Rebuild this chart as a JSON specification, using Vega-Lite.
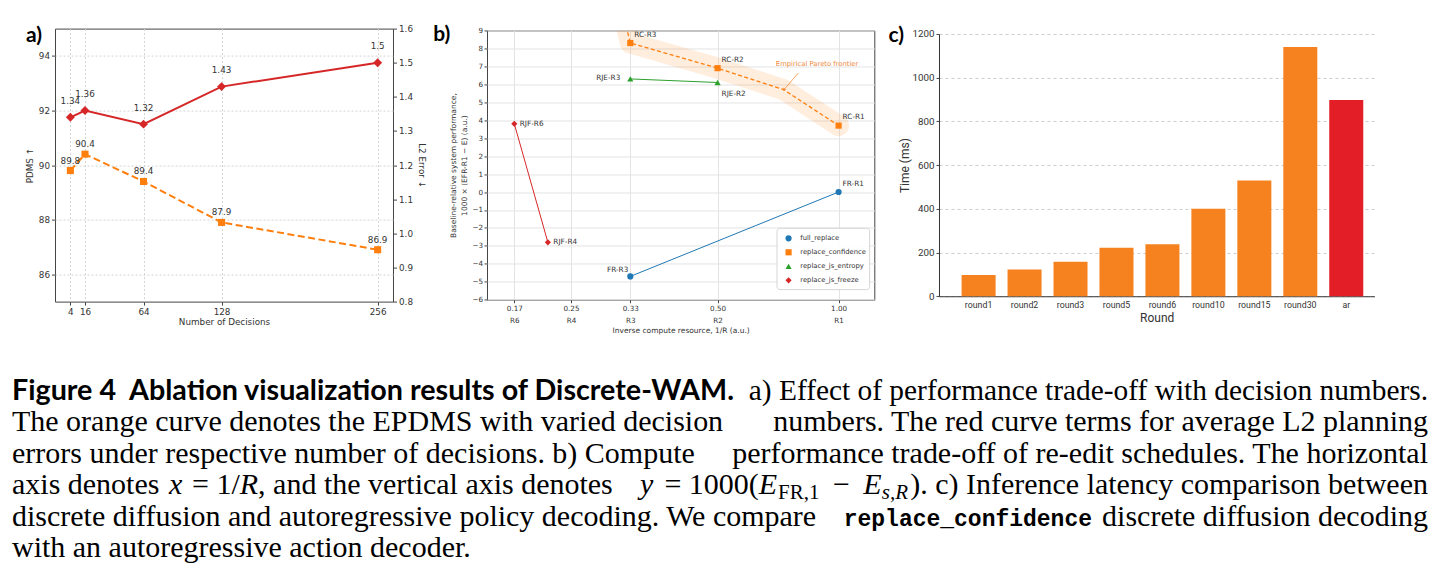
{
  "$schema": "https://vega.github.io/schema/vega-lite/v6.json",
  "background": "white",
  "padding": {"left": 12, "top": 23.6, "right": 0, "bottom": 0},
  "config": {
    "font": "DejaVu Sans",
    "view": {"stroke": null},
    "axis": {
      "labelFont": "DejaVu Sans", "titleFont": "DejaVu Sans",
      "labelColor": "#333333", "titleColor": "#333333", "titleFontWeight": "normal",
      "domainColor": "#444444", "tickColor": "#444444", "gridColor": "#d9d9d9",
      "labelFontSize": 8.8, "titleFontSize": 8.8
    },
    "text": {"font": "DejaVu Sans"}
  },
  "datasets": {
    "decisions": [
      {"n": 4, "pdms": 89.8, "l2": 1.34},
      {"n": 16, "pdms": 90.4, "l2": 1.36},
      {"n": 64, "pdms": 89.4, "l2": 1.32},
      {"n": 128, "pdms": 87.9, "l2": 1.43},
      {"n": 256, "pdms": 86.9, "l2": 1.5}
    ],
    "runs": [
      {"series": "full_replace", "label": "FR-R3", "inv_r": 0.3333333, "perf": -4.7},
      {"series": "full_replace", "label": "FR-R1", "inv_r": 1, "perf": 0},
      {"series": "replace_confidence", "label": "RC-R3", "inv_r": 0.3333333, "perf": 8.3},
      {"series": "replace_confidence", "label": "RC-R2", "inv_r": 0.5, "perf": 6.9},
      {"series": "replace_confidence", "label": "RC-R1", "inv_r": 1, "perf": 3.7},
      {"series": "replace_js_entropy", "label": "RJE-R3", "inv_r": 0.3333333, "perf": 6.3},
      {"series": "replace_js_entropy", "label": "RJE-R2", "inv_r": 0.5, "perf": 6.1},
      {"series": "replace_js_freeze", "label": "RJF-R6", "inv_r": 0.1666667, "perf": 3.8},
      {"series": "replace_js_freeze", "label": "RJF-R4", "inv_r": 0.216, "perf": -2.8}
    ],
    "legend_items": [
      {"series": "full_replace"},
      {"series": "replace_confidence"},
      {"series": "replace_js_entropy"},
      {"series": "replace_js_freeze"}
    ],
    "frontier": [
      {"inv_r": 0.3296, "perf": 8.9},
      {"inv_r": 0.3333333, "perf": 8.3},
      {"inv_r": 0.5, "perf": 6.9},
      {"inv_r": 0.773, "perf": 5.7},
      {"inv_r": 1, "perf": 3.7}
    ],
    "frontier_note": [
      {"inv_r": 0.911, "perf": 7.15, "note": "Empirical Pareto frontier"}
    ],
    "frontier_arrow": [
      {"end": "tail", "inv_r": 0.8335, "perf": 6.63},
      {"end": "head", "inv_r": 0.7736, "perf": 5.69}
    ],
    "latency": [
      {"round": "round1", "time_ms": 97},
      {"round": "round2", "time_ms": 122},
      {"round": "round3", "time_ms": 158},
      {"round": "round5", "time_ms": 222},
      {"round": "round6", "time_ms": 238},
      {"round": "round10", "time_ms": 400},
      {"round": "round15", "time_ms": 530},
      {"round": "round30", "time_ms": 1140},
      {"round": "ar", "time_ms": 898}
    ],
    "caption": [
      {"line": 1, "part": "start", "piece": 0, "text": "Figure 4\u00a0\u00a0Ablation visualization results of Discrete-WAM."},
      {"line": 1, "part": "end", "piece": 0, "text": "a) Effect of performance trade-off with decision numbers."},
      {"line": 2, "part": "start", "piece": 0, "text": "The orange curve denotes the EPDMS with varied decision"},
      {"line": 2, "part": "end", "piece": 0, "text": "numbers. The red curve terms for average L2 planning"},
      {"line": 3, "part": "start", "piece": 0, "text": "errors under respective number of decisions. b) Compute"},
      {"line": 3, "part": "end", "piece": 0, "text": "performance trade-off of re-edit schedules. The horizontal"},
      {"line": 4, "part": "start", "piece": 1, "text": "axis denotes"},
      {"line": 4, "part": "start", "piece": 2, "text": "x"},
      {"line": 4, "part": "start", "piece": 3, "text": "= 1/"},
      {"line": 4, "part": "start", "piece": 4, "text": "R"},
      {"line": 4, "part": "start", "piece": 5, "text": ", and the vertical axis denotes"},
      {"line": 4, "part": "end", "piece": 6, "text": "y"},
      {"line": 4, "part": "end", "piece": 7, "text": "= 1000("},
      {"line": 4, "part": "end", "piece": 8, "text": "E"},
      {"line": 4, "part": "end", "piece": 9, "text": "FR,1"},
      {"line": 4, "part": "end", "piece": 10, "text": "\u2212"},
      {"line": 4, "part": "end", "piece": 11, "text": "E"},
      {"line": 4, "part": "end", "piece": 12, "text": "s,R"},
      {"line": 4, "part": "end", "piece": 13, "text": "). c) Inference latency comparison between"},
      {"line": 5, "part": "start", "piece": 0, "text": "discrete diffusion and autoregressive policy decoding. We compare"},
      {"line": 5, "part": "end", "piece": 1, "text": "replace_confidence"},
      {"line": 5, "part": "end", "piece": 0, "text": "discrete diffusion decoding"},
      {"line": 6, "part": "start", "piece": 0, "text": "with an autoregressive action decoder."}
    ]
  },
  "vconcat": [
    {
      "hconcat": [
        {
          "width": 338,
          "height": 273,
          "view": {"stroke": "#444444", "strokeWidth": 1},
          "title": {"text": "a)", "anchor": "start", "frame": "group", "orient": "top", "offset": 0, "dx": -29, "dy": 38.5, "font": "Lato", "fontSize": 21, "fontWeight": "bold", "color": "#000000", "baseline": "alphabetic"},
          "data": {"name": "decisions"},
          "encoding": {
            "x": {
              "field": "n", "type": "quantitative",
              "scale": {"domain": [-8.6, 268.6], "nice": false, "zero": false},
              "axis": {"values": [4, 16, 64, 128, 256], "title": "Number of Decisions", "grid": true, "gridDash": [2, 2], "gridColor": "#d4d4d4", "domain": false, "tickSize": 3.5, "labelPadding": 2, "titlePadding": 2}
            }
          },
          "layer": [
            {
              "encoding": {
                "y": {
                  "field": "pdms", "type": "quantitative",
                  "scale": {"domain": [85, 95], "nice": false, "zero": false},
                  "axis": {"orient": "left", "values": [86, 88, 90, 92, 94], "title": "PDMS \u2191", "grid": true, "gridDash": [2, 2], "gridColor": "#d4d4d4", "domain": false, "tickSize": 3.5, "labelPadding": 2, "titlePadding": 4}
                }
              },
              "layer": [
                {"mark": {"type": "line", "color": "#ff7f0e", "strokeWidth": 2, "strokeDash": [7, 3.5]}},
                {"mark": {"type": "point", "shape": "square", "filled": true, "opacity": 1, "color": "#ff7f0e", "size": 50}},
                {"mark": {"type": "text", "dy": -10, "fontSize": 8.8, "color": "#333333", "baseline": "middle"}, "encoding": {"text": {"field": "pdms", "type": "quantitative", "format": ".1f"}}}
              ]
            },
            {
              "encoding": {
                "y": {
                  "field": "l2", "type": "quantitative",
                  "scale": {"domain": [0.8, 1.6], "nice": false, "zero": false},
                  "axis": {"orient": "right", "values": [0.8, 0.9, 1.0, 1.1, 1.2, 1.3, 1.4, 1.5, 1.6], "format": ".1f", "title": "L2 Error \u2193", "grid": false, "domain": false, "tickSize": 3.5, "labelPadding": 2, "titlePadding": 4}
                }
              },
              "layer": [
                {"mark": {"type": "line", "color": "#d62728", "strokeWidth": 2}},
                {"mark": {"type": "point", "shape": "diamond", "filled": true, "opacity": 1, "color": "#d62728", "size": 80}},
                {"mark": {"type": "text", "dy": -16.5, "fontSize": 8.8, "color": "#333333", "baseline": "middle"}, "encoding": {"text": {"field": "l2", "type": "quantitative"}}}
              ]
            }
          ],
          "resolve": {"scale": {"y": "independent"}}
        },
        {
          "width": 93.7, "height": 10,
          "data": {"values": []},
          "mark": {"type": "point"}
        },
        {
          "width": 387.3,
          "height": 269.3,
          "view": {"stroke": "#444444", "strokeWidth": 1},
          "title": {"text": "b)", "anchor": "start", "frame": "group", "orient": "top", "offset": 0, "dx": -53.7, "dy": 35.9, "font": "Lato", "fontSize": 21, "fontWeight": "bold", "color": "#000000", "baseline": "alphabetic"},
          "layer": [
            {
              "encoding": {
                "x": {
                  "field": "inv_r", "type": "quantitative",
                  "scale": {"type": "linear", "domain": [0.1265, 0.1666667, 0.25, 0.3333333, 0.5, 1, 1.1475], "range": [0, 27.3, 84, 143.3, 230.6, 351.6, 387.3], "nice": false, "zero": false},
                  "axis": {
                    "values": [0.1666667, 0.25, 0.3333333, 0.5, 1],
                    "labelExpr": "datum.value < 0.2 ? ['0.17', 'R6'] : datum.value < 0.3 ? ['0.25', 'R4'] : datum.value < 0.4 ? ['0.33', 'R3'] : datum.value < 0.7 ? ['0.50', 'R2'] : ['1.00', 'R1']",
                    "title": "Inverse compute resource, 1/R (a.u.)",
                    "grid": true, "gridColor": "#e3e3e3", "domain": false, "tickSize": 3, "labelPadding": 2,
                    "labelFontSize": 7.2, "labelLineHeight": 12, "titleFontSize": 7.5, "titlePadding": 3
                  }
                },
                "y": {
                  "field": "perf", "type": "quantitative",
                  "scale": {"domain": [-6, 9], "nice": false, "zero": false},
                  "axis": {
                    "values": [-6, -5, -4, -3, -2, -1, 0, 1, 2, 3, 4, 5, 6, 7, 8, 9],
                    "labelExpr": "datum.value < 0 ? '\u2212' + abs(datum.value) : datum.label",
                    "title": ["Baseline-relative system performance,", "1000 \u00d7 (EFR-R1 \u2212 E) (a.u.)"],
                    "grid": true, "gridColor": "#e3e3e3", "domain": false, "tickSize": 3, "labelPadding": 1.5,
                    "labelFontSize": 7.2, "titleFontSize": 7.5, "titleLineHeight": 11.6, "titlePadding": 3
                  }
                }
              },
              "layer": [
                {"data": {"name": "frontier"}, "mark": {"type": "line", "color": "#ff7f0e", "opacity": 0.14, "strokeWidth": 21, "strokeCap": "round", "strokeJoin": "round", "clip": true}},
                {"data": {"name": "frontier"}, "mark": {"type": "line", "color": "#ff7f0e", "strokeWidth": 1.3, "strokeDash": [4, 2.5], "clip": true}},
                {
                  "data": {"name": "runs"},
                  "transform": [{"filter": "datum.series !== 'replace_confidence'"}],
                  "mark": {"type": "line", "strokeWidth": 1},
                  "encoding": {
                    "stroke": {"field": "series", "type": "nominal", "scale": {"domain": ["full_replace", "replace_confidence", "replace_js_entropy", "replace_js_freeze"], "range": ["#1f77b4", "#ff7f0e", "#2ca02c", "#d62728"]}, "legend": null}
                  }
                },
                {
                  "data": {"name": "runs"},
                  "mark": {"type": "point", "filled": true, "opacity": 1, "size": 38},
                  "encoding": {
                    "color": {"field": "series", "type": "nominal", "scale": {"domain": ["full_replace", "replace_confidence", "replace_js_entropy", "replace_js_freeze"], "range": ["#1f77b4", "#ff7f0e", "#2ca02c", "#d62728"]}, "legend": null},
                    "shape": {"field": "series", "type": "nominal", "scale": {"domain": ["full_replace", "replace_confidence", "replace_js_entropy", "replace_js_freeze"], "range": ["circle", "square", "triangle-up", "diamond"]}, "legend": null}
                  }
                },
                {
                  "data": {"name": "runs"},
                  "transform": [{"filter": {"field": "label", "oneOf": ["RC-R3", "RC-R2", "RC-R1", "FR-R1"]}}],
                  "mark": {"type": "text", "align": "left", "baseline": "middle", "dx": 4, "dy": -8.5, "fontSize": 7.3, "color": "#333333"},
                  "encoding": {"text": {"field": "label"}}
                },
                {
                  "data": {"name": "runs"},
                  "transform": [{"filter": {"field": "label", "oneOf": ["RJF-R6", "RJF-R4"]}}],
                  "mark": {"type": "text", "align": "left", "baseline": "middle", "dx": 5.5, "dy": 0, "fontSize": 7.3, "color": "#333333"},
                  "encoding": {"text": {"field": "label"}}
                },
                {
                  "data": {"name": "runs"},
                  "transform": [{"filter": {"field": "label", "oneOf": ["RJE-R3"]}}],
                  "mark": {"type": "text", "align": "right", "baseline": "middle", "dx": -10, "dy": -1, "fontSize": 7.3, "color": "#333333"},
                  "encoding": {"text": {"field": "label"}}
                },
                {
                  "data": {"name": "runs"},
                  "transform": [{"filter": {"field": "label", "oneOf": ["FR-R3"]}}],
                  "mark": {"type": "text", "align": "right", "baseline": "middle", "dx": -2, "dy": -6.5, "fontSize": 7.3, "color": "#333333"},
                  "encoding": {"text": {"field": "label"}}
                },
                {
                  "data": {"name": "runs"},
                  "transform": [{"filter": {"field": "label", "oneOf": ["RJE-R2"]}}],
                  "mark": {"type": "text", "align": "left", "baseline": "middle", "dx": 4, "dy": 11, "fontSize": 7.3, "color": "#333333"},
                  "encoding": {"text": {"field": "label"}}
                },
                {
                  "data": {"name": "frontier_note"},
                  "mark": {"type": "text", "align": "center", "baseline": "middle", "fontSize": 6.8, "color": "#ef8a3a"},
                  "encoding": {"text": {"field": "note"}}
                },
                {
                  "data": {"name": "frontier_arrow"},
                  "mark": {"type": "line", "color": "#ef8a3a", "strokeWidth": 0.8}
                },
                {
                  "data": {"name": "frontier_arrow"},
                  "transform": [{"filter": "datum.end === 'head'"}],
                  "mark": {"type": "point", "shape": "triangle-up", "filled": true, "opacity": 1, "size": 12, "angle": 220, "color": "#ef8a3a"}
                }
              ]
            },
            {
              "data": {"name": "legend_items"},
              "encoding": {
                "y": {"field": "series", "type": "nominal", "scale": {"type": "point", "domain": ["full_replace", "replace_confidence", "replace_js_entropy", "replace_js_freeze"], "range": [207.85, 249.85], "padding": 0}, "axis": null}
              },
              "layer": [
                {
                  "transform": [{"filter": "datum.series === 'full_replace'"}],
                  "mark": {"type": "rect", "fill": "#ffffff", "fillOpacity": 0.9, "stroke": "#cccccc", "strokeWidth": 0.8, "cornerRadius": 3, "yOffset": -10, "y2Offset": 9.3},
                  "encoding": {
                    "x": {"datum": 0, "type": "quantitative", "scale": {"domain": [0, 1], "range": [290, 382.6]}, "axis": null},
                    "x2": {"datum": 1},
                    "y2": {"datum": "replace_js_freeze"}
                  }
                },
                {
                  "mark": {"type": "point", "filled": true, "opacity": 1, "size": 38},
                  "encoding": {
                    "x": {"datum": 0.125, "type": "quantitative", "scale": {"domain": [0, 1], "range": [290, 382.6]}, "axis": null},
                    "color": {"field": "series", "type": "nominal", "scale": {"domain": ["full_replace", "replace_confidence", "replace_js_entropy", "replace_js_freeze"], "range": ["#1f77b4", "#ff7f0e", "#2ca02c", "#d62728"]}, "legend": null},
                    "shape": {"field": "series", "type": "nominal", "scale": {"domain": ["full_replace", "replace_confidence", "replace_js_entropy", "replace_js_freeze"], "range": ["circle", "square", "triangle-up", "diamond"]}, "legend": null}
                  }
                },
                {
                  "mark": {"type": "text", "align": "left", "baseline": "middle", "fontSize": 6.8, "color": "#333333"},
                  "encoding": {
                    "x": {"datum": 0.2516, "type": "quantitative", "scale": {"domain": [0, 1], "range": [290, 382.6]}, "axis": null},
                    "text": {"field": "series"}
                  }
                }
              ]
            }
          ],
          "resolve": {"scale": {"x": "independent", "y": "independent"}}
        },
        {
          "width": 63.3, "height": 10,
          "data": {"values": []},
          "mark": {"type": "point"}
        },
        {
          "width": 435.4,
          "height": 262.3,
          "title": {"text": "c)", "anchor": "start", "frame": "group", "orient": "top", "offset": 0, "dx": -50.6, "dy": 33.7, "font": "Lato", "fontSize": 21, "fontWeight": "bold", "color": "#000000", "baseline": "alphabetic"},
          "data": {"name": "latency"},
          "mark": {"type": "bar"},
          "encoding": {
            "x": {
              "field": "round", "type": "nominal", "sort": null,
              "scale": {"paddingInner": 0.26, "paddingOuter": 0.367, "align": 0.67},
              "axis": {"labelAngle": 0, "title": "Round", "labelFont": "Roboto", "titleFont": "Roboto", "labelFontSize": 8.8, "titleFontSize": 12, "tickSize": 0, "labelPadding": 4, "domainColor": "#333333", "titlePadding": 3}
            },
            "y": {
              "field": "time_ms", "type": "quantitative",
              "scale": {"domain": [0, 1200], "nice": false},
              "axis": {"values": [0, 200, 400, 600, 800, 1000, 1200], "format": "d", "title": "Time (ms)", "grid": true, "gridDash": [3, 3], "gridColor": "#cccccc", "labelFont": "Roboto", "titleFont": "Roboto", "labelFontSize": 9.8, "titleFontSize": 12, "tickSize": 3, "labelPadding": 2, "domainColor": "#333333", "titlePadding": 0.5}
            },
            "color": {"condition": {"test": "datum.round === 'ar'", "value": "#e41e26"}, "value": "#f6821f"}
          }
        }
      ],
      "spacing": 0,
      "bounds": "flush",
      "center": true,
      "resolve": {
        "scale": {"color": "independent", "shape": "independent", "stroke": "independent"}
      }
    },
    {
      "width": 1373,
      "height": 230,
      "data": {"name": "caption"},
      "encoding": {
        "x": {"field": "part", "type": "nominal", "scale": {"type": "point", "domain": ["start", "end"], "range": [-43, 1373], "padding": 0}, "axis": null},
        "y": {"field": "line", "type": "quantitative", "scale": {"domain": [1, 6], "range": [59, 216.5]}, "axis": null},
        "text": {"field": "text"}
      },
      "layer": [
        {"transform": [{"filter": "datum.line === 1 && datum.part === 'start'"}], "mark": {"type": "text", "align": "left", "baseline": "alphabetic", "font": "Lato", "fontWeight": "bold", "fontSize": 28.7, "color": "#000000"}},
        {"transform": [{"filter": "datum.part === 'start' && datum.line !== 1 && datum.line !== 4"}], "mark": {"type": "text", "align": "left", "baseline": "alphabetic", "font": "Liberation Serif", "fontSize": 30, "color": "#000000"}},
        {"transform": [{"filter": "datum.part === 'end' && datum.line !== 4 && datum.line !== 1 && datum.piece === 0"}], "mark": {"type": "text", "align": "right", "baseline": "alphabetic", "font": "Liberation Serif", "fontSize": 30, "color": "#000000"}},
        {"transform": [{"filter": "datum.part === 'end' && datum.line === 1"}], "mark": {"type": "text", "align": "right", "baseline": "alphabetic", "font": "Liberation Serif", "fontSize": 29.4, "color": "#000000"}},
        {"transform": [{"filter": "datum.line === 5 && datum.piece === 1"}], "mark": {"type": "text", "align": "right", "baseline": "alphabetic", "dx": -336, "font": "Liberation Mono", "fontWeight": "bold", "fontSize": 23, "color": "#000000"}},
        {"transform": [{"filter": "datum.line === 4 && datum.piece === 1"}], "mark": {"type": "text", "align": "left", "baseline": "alphabetic", "dx": 0, "font": "Liberation Serif", "fontSize": 30, "color": "#000000"}},
        {"transform": [{"filter": "datum.line === 4 && datum.piece === 2"}], "mark": {"type": "text", "align": "left", "baseline": "alphabetic", "dx": 157, "font": "Liberation Serif", "fontStyle": "italic", "fontSize": 30, "color": "#000000"}},
        {"transform": [{"filter": "datum.line === 4 && datum.piece === 3"}], "mark": {"type": "text", "align": "left", "baseline": "alphabetic", "dx": 180, "font": "Liberation Serif", "fontSize": 30, "color": "#000000"}},
        {"transform": [{"filter": "datum.line === 4 && datum.piece === 4"}], "mark": {"type": "text", "align": "left", "baseline": "alphabetic", "dx": 227.8, "font": "Liberation Serif", "fontStyle": "italic", "fontSize": 30, "color": "#000000"}},
        {"transform": [{"filter": "datum.line === 4 && datum.piece === 5"}], "mark": {"type": "text", "align": "left", "baseline": "alphabetic", "dx": 246.1, "font": "Liberation Serif", "fontSize": 30, "color": "#000000"}},
        {"transform": [{"filter": "datum.line === 4 && datum.piece === 6"}], "mark": {"type": "text", "align": "right", "baseline": "alphabetic", "dx": -774.7, "font": "Liberation Serif", "fontStyle": "italic", "fontSize": 30, "color": "#000000"}},
        {"transform": [{"filter": "datum.line === 4 && datum.piece === 7"}], "mark": {"type": "text", "align": "right", "baseline": "alphabetic", "dx": -669.2, "font": "Liberation Serif", "fontSize": 30, "color": "#000000"}},
        {"transform": [{"filter": "datum.line === 4 && datum.piece === 8"}], "mark": {"type": "text", "align": "right", "baseline": "alphabetic", "dx": -650.9, "font": "Liberation Serif", "fontStyle": "italic", "fontSize": 30, "color": "#000000"}},
        {"transform": [{"filter": "datum.line === 4 && datum.piece === 9"}], "mark": {"type": "text", "align": "right", "baseline": "alphabetic", "dx": -608.5, "dy": 4.5, "font": "Liberation Serif", "fontSize": 21, "color": "#000000"}},
        {"transform": [{"filter": "datum.line === 4 && datum.piece === 10"}], "mark": {"type": "text", "align": "right", "baseline": "alphabetic", "dx": -578.1, "font": "Liberation Serif", "fontSize": 30, "color": "#000000"}},
        {"transform": [{"filter": "datum.line === 4 && datum.piece === 11"}], "mark": {"type": "text", "align": "right", "baseline": "alphabetic", "dx": -546.3, "font": "Liberation Serif", "fontStyle": "italic", "fontSize": 30, "color": "#000000"}},
        {"transform": [{"filter": "datum.line === 4 && datum.piece === 12"}], "mark": {"type": "text", "align": "right", "baseline": "alphabetic", "dx": -520, "dy": 4.5, "font": "Liberation Serif", "fontStyle": "italic", "fontSize": 21, "color": "#000000"}},
        {"transform": [{"filter": "datum.line === 4 && datum.piece === 13"}], "mark": {"type": "text", "align": "right", "baseline": "alphabetic", "dx": 0, "font": "Liberation Serif", "fontSize": 30, "color": "#000000"}}
      ]
    }
  ],
  "spacing": 312,
  "bounds": "flush"
}
